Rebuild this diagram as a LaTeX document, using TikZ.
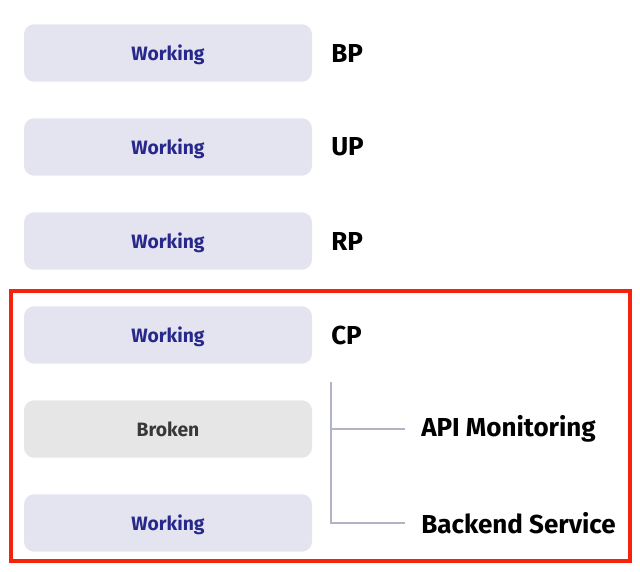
\documentclass[tikz,border=0pt]{standalone}
\usepackage{fontspec}
\setmainfont{Fira Sans}
\usepackage{xcolor}
\usetikzlibrary{positioning}
\definecolor{boxblue}{RGB}{228, 228, 240}
\definecolor{boxgrey}{RGB}{230, 230, 230}
\definecolor{textblue}{RGB}{40, 40, 140}
\definecolor{linegrey}{RGB}{176, 180, 196}
\definecolor{framered}{RGB}{244, 36, 12}

\begin{document}
\begin{tikzpicture}[x=0.75pt, y=-0.75pt,
    statusbox/.style={rounded corners=7.5pt, minimum width=216pt, minimum height=43pt, inner sep=0pt, text depth=0pt, font=\fontsize{14.5}{16}\selectfont\bfseries},
    working/.style={statusbox, fill=boxblue, text=textblue},
    broken/.style={statusbox, fill=boxgrey, text=black!78},
    tag/.style={anchor=west, inner sep=0pt, font=\fontsize{19.5}{22}\selectfont\bfseries},
    leaf/.style={tag, inner xsep=12pt}]
  \useasboundingbox (0,0) rectangle (640,572);

  % status column
  \foreach \name/\y/\txt in {bp/53/BP, up/147/UP, rp/241/RP, cp/335/CP} {
    \node[working] (\name box) at (168,\y) {Working};
    \node[tag] (\name) at (331,\y) {\txt};
  }
  \node[broken] (apibox) at (168,429) {Broken};
  \node[working] (backbox) at (168,523) {Working};

  % sub services of CP
  \coordinate (trunk) at (331,382);
  \node[leaf] (api) at (405,429) {API Monitoring};
  \node[leaf] (back) at (405,523) {Backend Service};
  \draw[linegrey, line width=1.2pt] (trunk) |- (api.west);
  \draw[linegrey, line width=1.2pt] (trunk) |- (back.west);

  \draw[framered, line width=3pt] (11,291) rectangle (630,561);
\end{tikzpicture}
\end{document}
